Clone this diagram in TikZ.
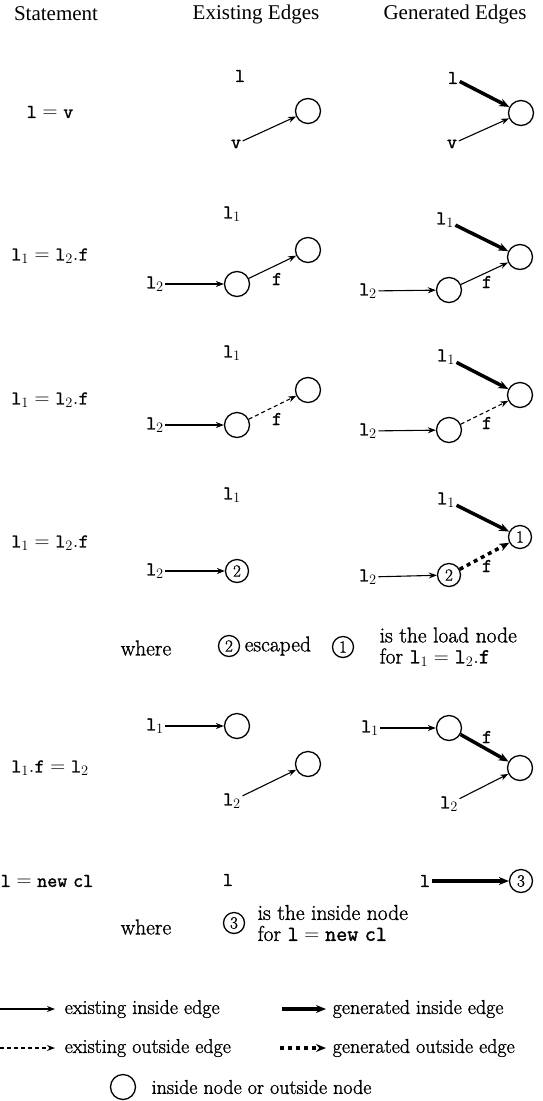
\documentclass[tikz,border=0pt]{standalone}
\usepackage{fontspec}
\setmainfont{Latin Modern Roman}[FakeBold=1.2]
\setmonofont{Latin Modern Mono}[FakeBold=1.4]
\newfontfamily\hdfont{Liberation Serif}
\usetikzlibrary{arrows.meta}
\begin{document}
\begin{tikzpicture}[x=1pt,y=-1pt,
  every node/.style={font=\fontsize{19.5}{22}\selectfont, inner sep=1.5pt},
  nd/.style={circle,draw,line width=1.3pt,minimum size=25pt,inner sep=0pt,font=\fontsize{17}{20}\selectfont},
  ndn/.style={nd,minimum size=23pt},
  ndw/.style={nd,minimum size=21pt},
  ei/.style={-{Stealth[length=8pt,width=6pt]},line width=1.1pt},
  eo/.style={ei,dash pattern=on 4pt off 3pt},
  gi/.style={-{Stealth[length=10pt,width=8pt]},line width=3.5pt},
  go/.style={gi,dash pattern=on 4pt off 4pt},
  hdr/.style={font=\hdfont\fontsize{21}{24}\selectfont},
  txt/.style={font=\fontsize{21.5}{24}\selectfont},
  lg/.style={font=\fontsize{20}{23}\selectfont,anchor=west},
  two/.style={txt,align=left,anchor=west}]
\useasboundingbox (0,0) rectangle (543,1101);
% headers
\node[hdr] (h1) at (56,14) {Statement};
\node[hdr] (h2) at (256,14) {Existing Edges};
\node[hdr] (h3) at (455,14) {Generated Edges};
% row 1
\node (s1) at (50,112) {$\mathtt{l}=\mathtt{v}$};
\node (e1l) at (240,76) {$\mathtt{l}$};
\node[nd] (e1c) at (308,111) {};
\node (e1v) at (236,144) {$\mathtt{v}$};
\draw[ei] (e1v) -- (e1c);
\node (g1l) at (453,78) {$\mathtt{l}$};
\node[nd] (g1c) at (521,113) {};
\node (g1v) at (452,144) {$\mathtt{v}$};
\draw[gi] (g1l) -- (g1c);
\draw[ei] (g1v) -- (g1c);
% row 2
\node (s2) at (50,256) {$\mathtt{l}_1=\mathtt{l}_2.\mathtt{f}$};
\node (e2l1) at (232,214) {$\mathtt{l}_1$};
\node[nd] (e2b) at (308,250) {};
\node (e2l2) at (155,284) {$\mathtt{l}_2$};
\node[nd] (e2a) at (237,284) {};
\node (e2f) at (277,279) {$\mathtt{f}$};
\draw[ei] (e2l2) -- (e2a);
\draw[ei] (e2a) -- (e2b);
\node (g2l1) at (445,220) {$\mathtt{l}_1$};
\node[nd] (g2b) at (520,257) {};
\node (g2l2) at (368,291) {$\mathtt{l}_2$};
\node[nd] (g2a) at (449,290) {};
\node (g2f) at (487,282) {$\mathtt{f}$};
\draw[gi] (g2l1) -- (g2b);
\draw[ei] (g2l2) -- (g2a);
\draw[ei] (g2a) -- (g2b);
% row 3
\node (s3) at (50,400) {$\mathtt{l}_1=\mathtt{l}_2.\mathtt{f}$};
\node (e3l1) at (232,353) {$\mathtt{l}_1$};
\node[nd] (e3b) at (308,390) {};
\node (e3l2) at (155,425) {$\mathtt{l}_2$};
\node[nd] (e3a) at (237,425) {};
\node (e3f) at (277,419) {$\mathtt{f}$};
\draw[ei] (e3l2) -- (e3a);
\draw[eo] (e3a) -- (e3b);
\node (g3l1) at (446,357) {$\mathtt{l}_1$};
\node[nd] (g3b) at (520,395) {};
\node (g3l2) at (368,431) {$\mathtt{l}_2$};
\node[nd] (g3a) at (449,430) {};
\node (g3f) at (487,423) {$\mathtt{f}$};
\draw[gi] (g3l1) -- (g3b);
\draw[ei] (g3l2) -- (g3a);
\draw[eo] (g3a) -- (g3b);
% row 4
\node (s4) at (50,543) {$\mathtt{l}_1=\mathtt{l}_2.\mathtt{f}$};
\node (e4l1) at (232,495) {$\mathtt{l}_1$};
\node (e4l2) at (155,571) {$\mathtt{l}_2$};
\node[ndn] (e4a) at (237,571) {2};
\draw[ei] (e4l2) -- (e4a);
\node (g4l1) at (446,500) {$\mathtt{l}_1$};
\node[ndn] (g4b) at (520,537) {1};
\node (g4l2) at (368,577) {$\mathtt{l}_2$};
\node[ndn] (g4a) at (449,575) {2};
\node (g4f) at (487,566) {$\mathtt{f}$};
\draw[gi] (g4l1) -- (g4b);
\draw[ei] (g4l2) -- (g4a);
\draw[go] (g4a) -- (g4b);
% where 1
\node[txt] (w1) at (146,648) {where};
\node[ndw] (w1a) at (229,646) {2};
\node[txt,anchor=west] (w1t) at (243,646) {escaped};
\node[ndw] (w1b) at (343,647) {1};
\node[two] (w1u) at (378,647) {is the load node\\[-3pt]for $\mathtt{l}_1=\mathtt{l}_2.\mathtt{f}$};
% row 5
\node (s5) at (50,768) {$\mathtt{l}_1.\mathtt{f}=\mathtt{l}_2$};
\node (e5l1) at (155,726) {$\mathtt{l}_1$};
\node[nd] (e5a) at (237,726) {};
\node[nd] (e5b) at (308,764) {};
\node (e5l2) at (232,801) {$\mathtt{l}_2$};
\draw[ei] (e5l1) -- (e5a);
\draw[ei] (e5l2) -- (e5b);
\node (g5l1) at (370,728) {$\mathtt{l}_1$};
\node[nd] (g5a) at (449,728) {};
\node[nd] (g5b) at (520,768) {};
\node (g5f) at (487,737) {$\mathtt{f}$};
\node (g5l2) at (449,804) {$\mathtt{l}_2$};
\draw[ei] (g5l1) -- (g5a);
\draw[gi] (g5a) -- (g5b);
\draw[ei] (g5l2) -- (g5b);
% row 6
\node[anchor=west] (s6) at (-1,881) {$\mathtt{l}=\mathtt{new\ cl}$};
\node (e6l) at (228,880) {$\mathtt{l}$};
\node (g6l) at (425,881) {$\mathtt{l}$};
\node[ndn] (g6c) at (521,881) {3};
\draw[gi] (g6l) -- (g6c);
% where 2
\node[txt] (w2) at (146,927) {where};
\node[ndw] (w2a) at (234,923) {3};
\node[two] (w2u) at (256,923) {is the inside node\\[-3pt]for $\mathtt{l}=\mathtt{new\ cl}$};
% legend
\coordinate (a1) at (0,1009); \coordinate (b1) at (55,1009);
\draw[ei] (a1) -- (b1);
\node[lg] (t1) at (63,1009) {existing inside edge};
\coordinate (a2) at (282,1009); \coordinate (b2) at (326,1009);
\draw[gi] (a2) -- (b2);
\node[lg] (t2) at (331,1009) {generated inside edge};
\coordinate (a3) at (0,1048); \coordinate (b3) at (55,1048);
\draw[eo] (a3) -- (b3);
\node[lg] (t3) at (63,1048) {existing outside edge};
\coordinate (a4) at (280,1048); \coordinate (b4) at (326,1048);
\draw[go] (a4) -- (b4);
\node[lg] (t4) at (331,1048) {generated outside edge};
\node[nd] (lc) at (123,1087) {};
\node[lg] (t5) at (150,1087) {inside node or outside node};
\end{tikzpicture}
\end{document}
